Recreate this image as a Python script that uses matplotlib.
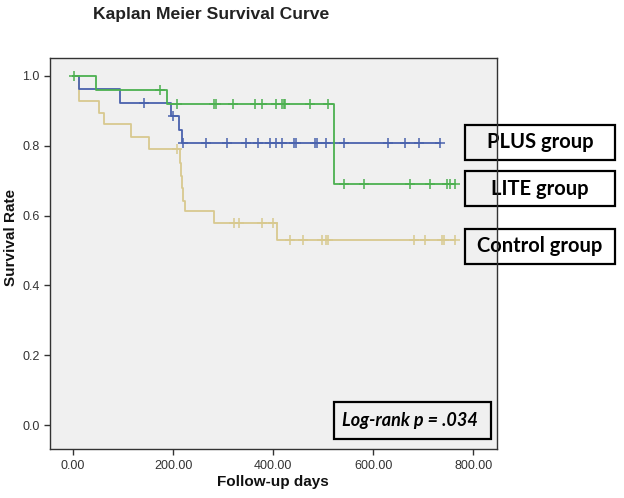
import matplotlib.pyplot as plt
from matplotlib.patches import Rectangle
import numpy as np

# Kaplan-Meier curves (days, survival after each event)
plus_event_days = [12, 94, 196, 211, 217]
plus_surv = [1.0, 0.962, 0.923, 0.885, 0.846, 0.808]
plus_censor_days = [142, 200, 220, 266, 308, 346, 370, 394, 406, 418, 442, 446,
                    484, 488, 506, 542, 630, 664, 692, 734]

lite_event_days = [47, 187, 521]
lite_surv = [1.0, 0.96, 0.92, 0.69]
lite_censor_days = [2, 174, 207, 281, 286, 319, 364, 377, 406, 417, 421, 424,
                    474, 509, 541, 582, 674, 714, 747, 754, 764]

ctrl_event_days = [12, 53, 62, 116, 151, 214, 216, 218, 220, 224, 282, 407]
ctrl_surv = [1.0, 0.929, 0.895, 0.861, 0.826, 0.79, 0.75, 0.714, 0.679, 0.643,
             0.614, 0.578, 0.53]
ctrl_censor_days = [207, 321, 331, 377, 399, 433, 459, 497, 506, 509, 681, 704,
                    737, 741, 764]

group_names = ["PLUS group", "LITE group", "Control group"]
x_ticks = [0, 200, 400, 600, 800]
y_ticks = [0.0, 0.2, 0.4, 0.6, 0.8, 1.0]

W, H = 624, 498


def km_curve(ax, events, surv, censors, colour):
    end = max(censors[-1], events[-1])
    xs = [0] + list(events) + [end]
    ys = list(surv) + [surv[-1]]
    ax.step(xs, ys, where="post", color=colour, lw=1.3, zorder=3)
    idx = np.searchsorted(events, censors, side="right")
    cy = np.array(surv)[idx]
    ax.plot(censors, cy, ls="none", marker="+", ms=7, mew=1.1, color=colour, zorder=4)


fig = plt.figure(figsize=(6.24, 4.98), dpi=100)
ax = fig.add_axes([0.080, 0.098, 0.717, 0.786])
ax.set_facecolor("#f0f0f0")

km_curve(ax, ctrl_event_days, ctrl_surv, ctrl_censor_days, "#d8c98f")
km_curve(ax, plus_event_days, plus_surv, plus_censor_days, "#4a62ad")
km_curve(ax, lite_event_days, lite_surv, lite_censor_days, "#4cb050")

ax.set_xlim(-46, 848)
ax.set_ylim(-0.069, 1.052)
ax.set_xticks(x_ticks)
ax.set_xticklabels(["%.2f" % t for t in x_ticks])
ax.set_yticks(y_ticks)
ax.set_yticklabels(["%.1f" % t for t in y_ticks])
ax.tick_params(direction="out", length=4, width=1, colors="#333333",
               labelsize=9, labelcolor="#333333")
for s in ax.spines.values():
    s.set_color("#333333")
    s.set_linewidth(1)
    s.set_zorder(10)  # right spine runs over the label boxes

for lab in ax.get_xticklabels() + ax.get_yticklabels():
    lab.set_family("Liberation Sans")

# axis titles and chart title
fig.text(273 / W, 1 - 482 / H, "Follow-up days", fontsize=11, fontweight="bold",
         family="Liberation Sans", color="#111111", ha="center", va="center")
fig.text(11 / W, 1 - 237 / H, "Survival Rate", fontsize=11, fontweight="bold",
         family="Liberation Sans", color="#111111", rotation=90,
         ha="center", va="center")
fig.text(93 / W, 1 - 15 / H, "Kaplan Meier Survival Curve", fontsize=12.6,
         fontweight="bold", family="Liberation Sans", color="#222222",
         ha="left", va="center")

# group label boxes on the right
box_tops = [125, 171, 229]
for name, top in zip(group_names, box_tops):
    x0, x1, h = 465, 615, 35
    ax.add_patch(Rectangle((x0 / W, 1 - (top + h) / H), (x1 - x0) / W, h / H,
                           transform=fig.transFigure, fill=False, clip_on=False,
                           ec="black", lw=1.6, zorder=5))
    ax.text((x0 + x1) / 2 / W, 1 - (top + h / 2) / H, name, fontsize=14.5,
            fontweight="bold", family="Lato", ha="center", va="center",
            transform=fig.transFigure, clip_on=False, zorder=5)

# log-rank box
ax.add_patch(Rectangle((334 / W, 1 - 439 / H), 157 / W, 37 / H,
                       transform=fig.transFigure, fc="#f0f0f0", clip_on=False,
                       ec="black", lw=1.6, zorder=5))
ax.text(410 / W, 1 - 420.5 / H, "Log-rank p = .034", fontsize=13,
        fontweight="bold", style="italic", family="Lato",
        ha="center", va="center", transform=fig.transFigure, zorder=6)

plt.savefig("out.png", dpi=100)
